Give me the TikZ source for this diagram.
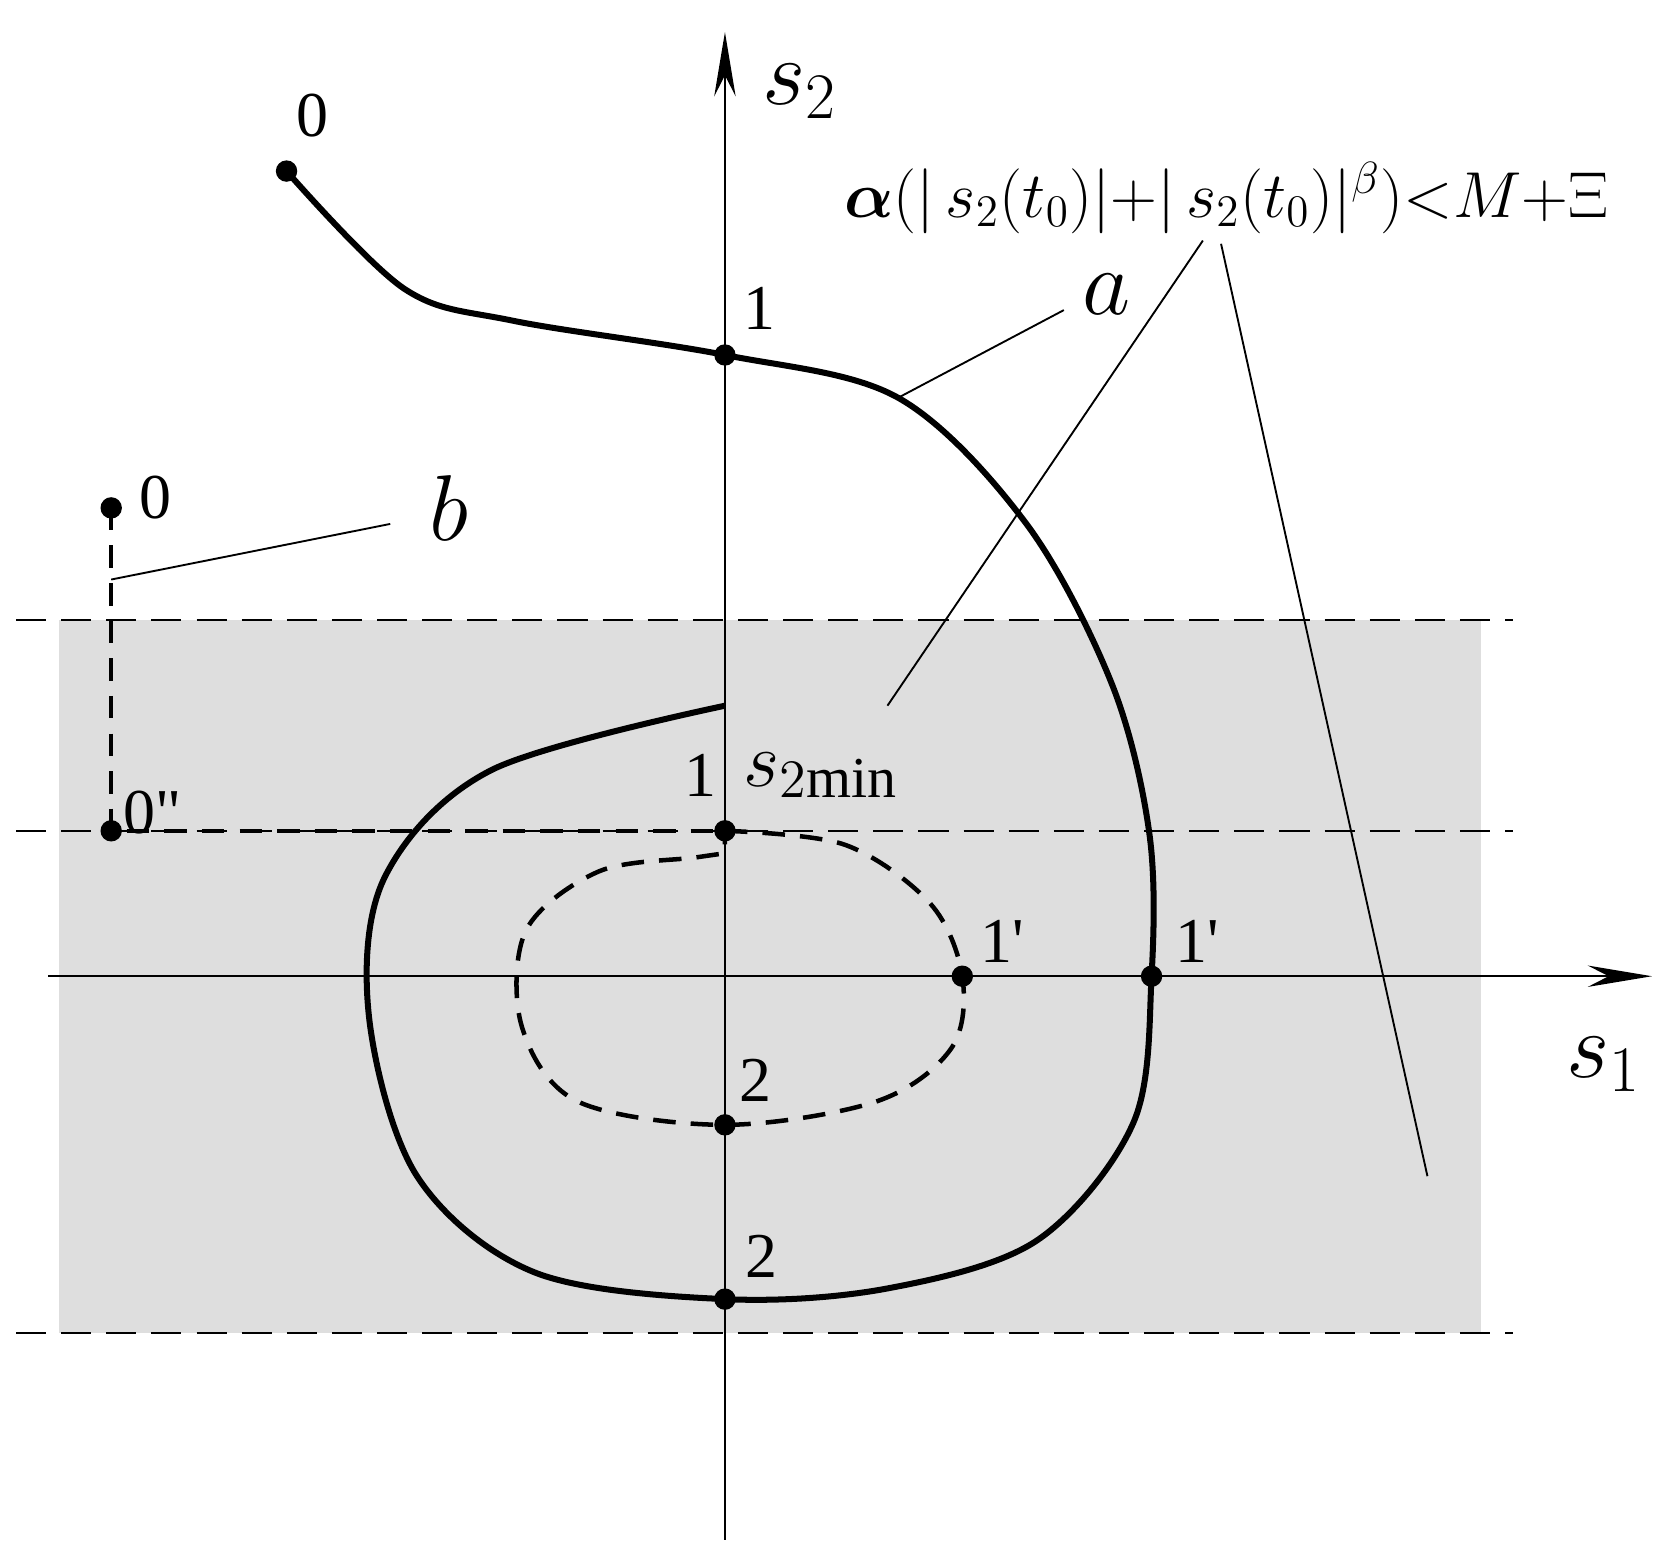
\documentclass[tikz,border=0pt]{standalone}
\usepackage{amsmath}
\usepackage{fontspec}
\setmainfont{Liberation Serif}
\usetikzlibrary{arrows.meta}
\begin{document}
\begin{tikzpicture}[x=0.01cm,y=-0.01cm,
  dot/.style={circle,fill=black,inner sep=0pt,minimum size=0.2cm},
  lbl/.style={font=\fontsize{17}{20}\selectfont},
  thick2/.style={line width=1.6pt},
  dsh/.style={dash pattern=on 6pt off 4pt,line width=1.2pt},
  thinl/.style={line width=0.5pt}]
\useasboundingbox (0,0) rectangle (1560,1451);
\fill[black!13] (55,580) rectangle (1385,1247);
\foreach \y in {580,777,1247} \draw[thinl,dash pattern=on 8pt off 4pt] (15,\y)--(1415,\y);
\draw[thinl,-{Stealth[length=0.6cm,width=0.2cm]}] (678,1440)--(678,30);
\draw[thinl,-{Stealth[length=0.6cm,width=0.2cm]}] (45,913)--(1545,913);
\node at (748,85) {\fontsize{26}{30}\selectfont $s_2$};
\node at (1500,995) {\fontsize{26}{30}\selectfont $s_1$};
% curve a
\draw[thick2] plot[smooth,tension=0.55] coordinates {(268,160) (378,270) (480,300) (678,332) (840,372) (960,490) (1040,640) (1075,780) (1077,913) (1060,1050) (970,1160) (830,1205) (678,1215) (500,1190) (390,1100) (345,950) (360,820) (460,720) (678,660)};
% dashed inner
\draw[dsh] plot[smooth,tension=0.55] coordinates {(678,777) (790,790) (870,845) (900,913) (890,980) (820,1030) (678,1052) (540,1030) (488,960) (492,870) (560,815) (650,802) (678,798)} -- (678,777);
\draw[dsh] (104,475)--(104,777)--(678,777);
% dots
\node[dot] (d0) at (268,160) {};
\node[dot] (d1) at (678,332) {};
\node[dot] (d1p) at (1077,913) {};
\node[dot] (d2) at (678,1215) {};
\node[dot] (e1) at (678,777) {};
\node[dot] (e1p) at (900,913) {};
\node[dot] (e2) at (678,1052) {};
\node[dot] (b0) at (104,475) {};
\node[dot] (b0pp) at (104,777) {};
\node[lbl] at (292,108) {0};
\node[lbl] at (710,288) {1};
\node[lbl] at (1120,880) {1\textquotesingle};
\node[lbl] at (712,1175) {2};
\node[lbl] at (655,725) {1};
\node at (768,725) {\fontsize{22}{26}\selectfont $s_{2\mathrm{min}}$};
\node[lbl] at (937,880) {1\textquotesingle};
\node[lbl] at (707,1010) {2};
\node[lbl] at (143,760) {0\textquotedbl};
\node[lbl] at (145,465) {0};
% leaders
\coordinate (la) at (840,372); \coordinate (la2) at (995,290);
\draw[thinl] (la)--(la2);
\node at (1035,275) {\fontsize{30}{34}\selectfont $a$};
\coordinate (lb) at (104,542); \coordinate (lb2) at (365,490);
\draw[thinl] (lb)--(lb2);
\node at (420,475) {\fontsize{30}{34}\selectfont $b$};
\node at (1147,185) {\fontsize{16.5}{19}\selectfont $\boldsymbol{\alpha}(|\,s_2(t_0)|{+}|\,s_2(t_0)|^{\beta}){<}M{+}\Xi$};
\coordinate (f1) at (1125,225); \coordinate (f2) at (1142,228);
\draw[thinl] (f1)--(830,660);
\draw[thinl] (f2)--(1335,1100);
\end{tikzpicture}
\end{document}
